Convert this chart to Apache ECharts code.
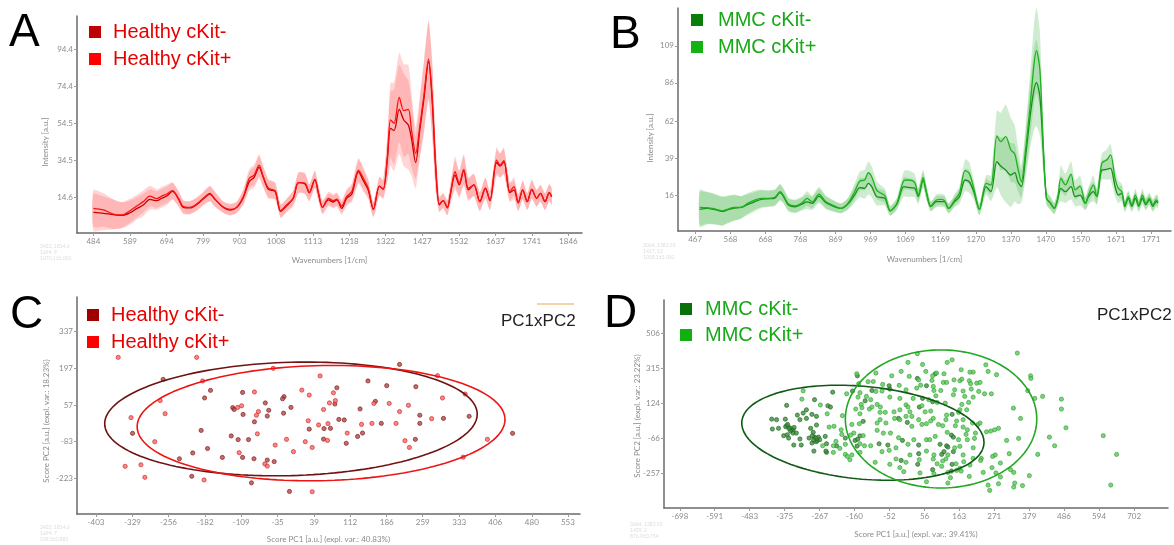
<!DOCTYPE html>
<html lang="en">
<head>
  <meta charset="UTF-8">
  <title>Raman spectra and PCA scores - Healthy vs MMC</title>
  <script src="https://cdn.jsdelivr.net/npm/echarts@6.0.0/dist/echarts.min.js"></script>
  <style>
    body { margin: 0; background: #fff; }
    #chart { width: 1174px; height: 545px; }
  </style>
</head>
<body>
<div id="chart"></div>
<script>
  // ---------- panel A : Healthy spectra ----------
  const waveA = [
    484, 513, 541, 565, 589, 608, 627, 646, 666, 680,
    694, 711, 728, 742, 761, 780, 799, 818, 833, 857,
    876, 895, 914, 931, 945, 959, 971, 986, 1005, 1021,
    1038, 1057, 1072, 1091, 1103, 1119, 1129, 1141, 1158, 1172,
    1182, 1196, 1210, 1225, 1244, 1258, 1272, 1287, 1304, 1315,
    1327, 1336, 1346, 1361, 1374, 1387, 1396, 1408, 1420, 1432,
    1445, 1455, 1466, 1476, 1487, 1499, 1508, 1521, 1533, 1546,
    1559, 1575, 1592, 1608, 1621, 1640, 1650, 1661, 1678, 1690,
    1702, 1715, 1728, 1741, 1755, 1766, 1779, 1791, 1798
  ];
  const healthyPos = [
    8.7, 7.8, 5.6, 5.1, 7.4, 9.9, 12.3, 15.3, 13.9, 15.3,
    16.4, 18.2, 14.1, 9.6, 9.2, 11.0, 14.1, 16.8, 13.5, 9.2,
    8.1, 9.2, 15.0, 24.9, 26.6, 32.0, 25.8, 19.5, 18.2, 7.4,
    10.5, 14.1, 22.5, 22.2, 17.1, 24.3, 17.1, 9.2, 14.1, 12.8,
    13.7, 9.9, 15.0, 17.7, 29.3, 24.9, 19.5, 8.1, 20.7, 19.0,
    36.5, 56.3, 54.5, 68.5, 61.3, 62.0, 50.9, 38.3, 53.0, 70.0,
    89.0, 70.0, 30.0, 11.0, 12.8, 9.0, 16.8, 28.4, 22.2, 29.7,
    19.5, 21.3, 12.3, 19.5, 12.8, 34.7, 32.0, 34.4, 17.7, 20.4,
    11.7, 18.6, 12.3, 18.9, 14.1, 16.8, 12.3, 17.1, 15.0
  ];
  const healthyNeg = [
    6.5, 6.0, 5.3, 4.9, 6.3, 8.5, 10.5, 13.5, 12.8, 14.1,
    15.3, 17.8, 13.7, 9.2, 8.9, 10.7, 13.7, 16.4, 13.5, 9.2,
    7.8, 9.2, 14.6, 23.1, 25.4, 30.8, 25.4, 18.9, 17.8, 7.1,
    10.0, 14.1, 22.5, 21.8, 17.1, 24.3, 17.1, 9.2, 13.2, 12.1,
    13.2, 8.7, 14.1, 16.4, 28.4, 23.6, 18.6, 8.1, 20.7, 19.0,
    35.5, 51.8, 50.6, 62.0, 56.3, 53.6, 46.4, 33.3, 51.0, 68.0,
    87.8, 68.0, 29.0, 10.5, 12.8, 9.0, 16.8, 26.6, 21.3, 29.0,
    18.6, 21.3, 12.3, 19.5, 12.8, 33.3, 31.5, 33.8, 17.1, 18.6,
    11.7, 18.6, 12.3, 18.9, 14.1, 16.8, 12.3, 17.1, 15.0
  ];
  const sdA = [
    10, 9, 8, 7, 6.5, 6, 6, 5.5, 5, 5,
    5, 4.5, 4, 3.5, 3.5, 3.5, 3.5, 4, 4, 3,
    3, 3, 4, 5, 5.5, 6, 5.5, 5, 4.5, 3.5,
    3.5, 4, 5.5, 5.5, 4.5, 4.5, 4, 3.5, 3.5, 3.5,
    3.5, 3.5, 4, 4.5, 6.5, 6, 5, 4, 5, 5,
    12, 20, 22, 24, 25, 24, 20, 14, 16, 19,
    21, 20, 12, 4, 4, 4, 5, 8, 7, 8,
    6, 6, 5, 5.5, 5, 7, 6.5, 7, 5, 5,
    4.5, 5, 4.5, 5, 4.5, 4.5, 4.5, 4.5, 4.5
  ];
  const xTicksA = [484, 589, 694, 799, 903, 1008, 1113, 1218, 1322, 1427, 1532, 1637, 1741, 1846];
  const yTicksA = [14.6, 34.5, 54.5, 74.4, 94.4];

  // ---------- panel B : MMC spectra ----------
  const waveB = [
    480, 501, 520, 545, 559, 579, 598, 617, 637, 656,
    676, 695, 710, 719, 734, 753, 773, 787, 802, 821,
    841, 860, 884, 904, 923, 938, 952, 962, 972, 986,
    996, 1010, 1025, 1044, 1064, 1076, 1095, 1105, 1119, 1128,
    1141, 1157, 1171, 1180, 1192, 1209, 1223, 1239, 1251, 1264,
    1280, 1299, 1313, 1330, 1341, 1355, 1370, 1381, 1390, 1400,
    1412, 1425, 1436, 1443, 1453, 1462, 1472, 1483, 1494, 1504,
    1513, 1526, 1542, 1554, 1568, 1583, 1592, 1606, 1616, 1630,
    1644, 1655, 1668, 1677, 1687, 1696, 1706, 1716, 1726, 1736,
    1746, 1756, 1766, 1776, 1786, 1791
  ];
  const mmcPos = [
    8.3, 8.1, 7.5, 6.2, 7.1, 8.3, 8.3, 10.8, 12.9, 13.9,
    13.9, 14.6, 18.1, 16.0, 10.4, 9.2, 11.2, 13.9, 11.8, 16.6,
    11.8, 9.8, 7.7, 10.8, 18.1, 24.7, 25.4, 29.9, 27.4, 19.1,
    17.5, 15.4, 6.2, 10.8, 25.0, 25.4, 23.7, 16.0, 26.8, 18.1,
    9.2, 12.9, 13.3, 12.5, 7.7, 12.9, 17.1, 31.2, 29.5, 20.2,
    7.1, 23.3, 22.2, 52.8, 49.3, 52.4, 44.1, 41.6, 32.7, 24.3,
    44.1, 71.1, 97.1, 106.0, 94.0, 50.3, 14.0, 11.3, 7.7, 14.0,
    26.4, 22.3, 29.1, 19.2, 21.6, 10.8, 16.0, 22.3, 15.0, 35.8,
    37.9, 41.0, 26.4, 20.2, 18.1, 9.8, 15, 10, 16, 10,
    16, 11, 14, 10, 13, 12
  ];
  const mmcNeg = [
    7.1, 7.7, 7.1, 5.8, 6.7, 7.9, 8.3, 10.0, 11.8, 13.3,
    13.7, 14.1, 17.5, 15.4, 9.8, 8.7, 10.4, 11.8, 10.8, 15.4,
    11.2, 9.2, 7.7, 10.4, 16.0, 20.6, 20.2, 23.3, 21.2, 15.0,
    14.6, 13.9, 6.2, 10.4, 21.2, 20.8, 20.2, 15.0, 25.4, 18.1,
    8.8, 11.9, 11.9, 11.9, 7.7, 11.9, 15.0, 25.4, 24.3, 18.1,
    7.1, 21.2, 18.1, 36.8, 34.1, 31.6, 28.5, 30.0, 24.3, 21.2,
    39.9, 64.9, 81.5, 86.1, 77.3, 46.2, 14.0, 10.8, 7.7, 13.3,
    20.2, 18.1, 21.2, 15.0, 16.0, 10.8, 15.0, 18.1, 15.0, 31.6,
    32.0, 32.7, 21.2, 16.0, 17.1, 8.8, 14, 9, 14, 9,
    14, 10, 13, 9, 12, 11
  ];
  const sdB = [
    11, 10, 9.5, 9, 8.5, 8, 7, 6.5, 6, 5.5,
    5, 5, 5, 4.5, 4, 4, 4, 4.5, 4, 4.5,
    4, 3.5, 3, 3.5, 5, 6, 6.5, 7, 6.5, 5.5,
    5, 4.5, 3, 3.5, 6, 6, 5.5, 4.5, 5, 4.5,
    3, 3.5, 3.5, 3.5, 3, 3.5, 4.5, 7, 7, 5,
    3.5, 5, 6, 16, 18, 20, 20, 18, 14, 10,
    14, 20, 25, 27, 24, 14, 4, 4, 3.5, 4.5,
    8, 7, 8, 6, 6.5, 4, 5, 6, 5, 6,
    6.5, 7, 6, 5, 5, 3.5, 4, 3.5, 4, 3.5,
    4, 3.5, 3.5, 3.5, 3.5, 3.5
  ];
  const xTicksB = [467, 568, 668, 768, 869, 969, 1069, 1169, 1270, 1370, 1470, 1570, 1671, 1771];
  const yTicksB = [16, 39, 62, 86, 109];

  // ---------- panel C : Healthy PCA scores ----------
  const healthyNegScores = [
    [212,212],[-267,155],[148,149],[186,131],[245,127],[-171,113],[-106,105],[85,123],[-22,89],[-25,81],
    [-183,84],[-60,65],[81,61],[163,71],[-126,47],[-123,40],[-53,37],[-8,48],[132,42],[-105,21],
    [-56,15],[-23,26],[253,18],[89,2],[100,0],[301,6],[353,14],[-82,-7],[253,-13],[175,-13],
    [29,-35],[59,-33],[72,-32],[-190,-40],[-329,-51],[137,-50],[-129,-61],[127,-63],[-115,-75],[-94,-75],
    [58,-73],[104,-89],[244,-74],[441,-51],[-177,-109],[-207,-126],[-147,-143],[-106,-143],[-234,-148],[-83,-148],
    [-56,-153],[-42,-159],[-209,-215],[-88,-240],[-11,-273]
  ];
  const healthyPosScores = [
    [-358,239],[-199,239],[-44,197],[51,168],[289,169],[-187,149],[14,114],[-82,107],[78,104],[345,99],
    [29,95],[299,84],[-273,74],[82,74],[70,65],[160,63],[191,63],[-116,48],[-108,54],[-74,32],
    [58,40],[230,56],[-263,24],[-78,18],[212,32],[-332,9],[277,5],[27,-3],[156,-13],[135,-17],
    [205,-13],[48,-19],[67,-14],[-76,-53],[106,-50],[-284,-83],[-17,-74],[66,-78],[21,-83],[223,-79],
    [390,-74],[-40,-96],[35,-105],[232,-105],[-3,-121],[-113,-125],[341,-142],[-61,-168],[-56,-176],[-344,-177],
    [-312,-171],[-304,-219],[-184,-229],[35,-274]
  ];
  // confidence ellipses: [centerX, centerY, semiAxisA, semiAxisB, angleDeg]
  const ellipsesC = [[-8, 4, 378, 216, 4.1], [53, -12, 373, 219.5, 3.2]];
  const xTicksC = [-403, -329, -256, -182, -109, -35, 39, 112, 186, 259, 333, 406, 480, 553];
  const yTicksC = [337, 197, 57, -83, -223];

  // ---------- panel D : MMC PCA scores ----------
  const mmcNegScores = [
    [-151,275],[34,261],[89,286],[-53,221],[62,221],[-166,192],[-106,195],[-51,203],[-227,186],[-127,139],
    [50,152],[-283,145],[-242,112],[-234,105],[40,105],[81,134],[-308,90],[-318,72],[-308,43],[-291,65],
    [141,65],[-415,39],[-400,36],[-133,27],[-24,43],[-413,-15],[-394,-11],[-369,3],[-353,-19],[-349,-19],
    [-295,-11],[3,21],[-378,-51],[-367,-46],[-357,-26],[-349,-37],[-339,-37],[-363,-64],[-328,-69],[-287,-33],
    [-283,-59],[-271,-59],[-250,-55],[-267,-73],[-347,-102],[-291,-91],[-275,-80],[-246,-95],[-188,-64],[-158,-77],
    [-215,-106],[-12,-77],[38,-102],[139,-48],[145,-59],[104,-98],[124,-106],[128,-113],[-84,-95],[-57,-102],
    [-246,-142],[-248,-135],[38,-149],[109,-153],[116,-138],[145,-138],[-16,-186],[35,-207],[141,-207],[81,-236],
    [139,-244],[-336,61],[-328,36],[-373,39],[-359,-8],[-369,114],[-324,-102],[-300,-64],[-279,-84],[-277,54],
    [-277,7],[-285,-135],[-372,-2],[-362,-12],[-346,-6],[-366,10],[-290,-52],[-279,-66],[-286,-75],[-143,-52],
    [-150,-70],[-152,-108]
  ];
  const mmcPosScores = [
    [342,399],[34,395],[5,348],[50,337],[126,348],[141,362],[245,335],[-94,290],[-153,286],[-16,299],
    [60,299],[93,290],[116,286],[169,308],[196,295],[206,295],[252,299],[278,281],[383,275],[384,261],
    [-45,275],[9,272],[38,253],[81,275],[79,250],[114,239],[124,239],[165,248],[147,253],[171,257],
    [194,248],[198,232],[217,235],[227,239],[-102,244],[-118,243],[-73,228],[-22,223],[44,224],[83,217],
    [-147,232],[-184,177],[-143,183],[-94,190],[-75,192],[-1,199],[32,208],[85,195],[106,195],[149,199],
    [175,192],[200,203],[223,190],[241,177],[262,177],[374,194],[-318,193],[-123,163],[-110,145],[-149,159],
    [-51,159],[-20,152],[21,152],[69,145],[91,166],[145,172],[180,163],[206,159],[396,152],[420,163],
    [478,148],[-322,148],[-265,116],[-139,119],[-90,119],[-80,105],[-1,117],[5,105],[48,112],[95,130],
    [120,126],[171,119],[192,130],[330,99],[478,94],[-244,68],[-197,58],[-156,94],[-137,101],[-114,94],
    [-106,105],[-81,76],[-65,76],[-38,79],[-20,90],[11,79],[58,79],[75,83],[124,61],[165,90],
    [161,76],[186,90],[-143,68],[-81,36],[-36,43],[-1,54],[17,54],[38,36],[83,43],[75,29],
    [122,36],[155,29],[175,36],[204,18],[221,10],[227,18],[352,43],[-238,-4],[-223,0],[-201,-19],
    [-168,10],[-145,14],[-90,18],[-63,18],[-20,36],[17,0],[48,10],[62,14],[99,10],[112,3],
    [151,3],[175,-4],[188,-19],[260,-26],[272,-19],[284,-11],[492,-8],[-258,-106],[-217,-82],[-199,-44],
    [-172,-48],[-162,-37],[-143,-95],[-188,-98],[-129,-106],[-110,-106],[-133,-51],[-90,-22],[-71,-37],[-49,-37],
    [-24,-62],[5,-98],[23,-73],[62,-73],[89,-55],[72,-73],[126,-33],[161,-73],[184,-44],[188,-73],
    [210,-66],[213,-37],[247,-30],[346,-66],[309,-77],[441,-59],[457,-106],[607,-51],[149,-117],[165,-109],
    [206,-117],[-225,-106],[-205,-120],[-225,-142],[-188,-153],[-182,-164],[-168,-156],[-143,-142],[-75,-138],[-53,-131],
    [-32,-117],[11,-156],[62,-135],[85,-156],[128,-156],[175,-156],[206,-175],[231,-175],[266,-164],[274,-156],
    [317,-149],[405,-153],[648,-153],[-174,-182],[-96,-196],[-32,-178],[-51,-207],[-1,-196],[40,-182],[83,-178],
    [95,-204],[112,-189],[122,-178],[153,-204],[177,-193],[196,-211],[264,-225],[290,-200],[229,-186],[-20,-225],
    [-8,-247],[42,-254],[85,-258],[109,-218],[128,-251],[155,-240],[165,-229],[169,-244],[194,-273],[237,-251],
    [276,-254],[290,-276],[321,-236],[331,-251],[379,-269],[136,-280],[62,-302],[128,-309],[252,-320],[284,-313],
    [334,-309],[358,-323],[331,-331],[257,-349],[630,-320]
  ];
  const ellipsesD = [[-134, -35, 380, 249, -14.2], [107, 40, 295, 376, 0]];
  const xTicksD = [-698, -591, -483, -375, -267, -160, -52, 56, 163, 271, 379, 486, 594, 702];
  const yTicksD = [506, 315, 124, -66, -257];

  // ---------- helpers ----------
  const labelFont = { color: '#8c8c8c', fontSize: 8, fontFamily: 'Lato' };

  function makeAxis(grid, min, max, ticks, name, gap) {
    return {
      type: 'value', gridIndex: grid, min: min, max: max,
      name: name, nameLocation: 'middle', nameGap: gap,
      nameTextStyle: { color: '#8c8c8c', fontSize: 8, fontFamily: 'Lato' },
      axisLine: { show: true, onZero: false, lineStyle: { color: '#6a6a6a', width: 1.5 } },
      axisTick: { show: true, length: 3, customValues: ticks, lineStyle: { color: '#9a9a9a' } },
      axisLabel: Object.assign({ customValues: ticks, margin: 4, formatter: v => String(v) }, labelFont),
      splitLine: { show: false }
    };
  }

  // mean +/- sd band, drawn as one polygon through the axis scales
  function bandSeries(idx, wave, mean, sd, color, opacity) {
    const rows = wave.map((w, i) => [w, mean[i] - sd[i], mean[i] + sd[i]]);
    return {
      type: 'custom', xAxisIndex: idx, yAxisIndex: idx, silent: true, clip: true,
      encode: { x: 0, y: [1, 2] },
      data: rows,
      renderItem: function (params, api) {
        if (params.dataIndex !== 0) return null;
        const up = rows.map(r => api.coord([r[0], r[2]]));
        const lo = rows.map(r => api.coord([r[0], r[1]])).reverse();
        return {
          type: 'polygon',
          shape: { points: up.concat(lo), smooth: 0.2 },
          style: { fill: color, opacity: opacity }
        };
      }
    };
  }

  function meanSeries(idx, wave, mean, color) {
    return {
      type: 'line', xAxisIndex: idx, yAxisIndex: idx, symbol: 'none', smooth: 0.3,
      lineStyle: { color: color, width: 1.3 }, data: wave.map((w, i) => [w, mean[i]])
    };
  }

  function scoreSeries(idx, pts, fill, border) {
    return {
      type: 'scatter', xAxisIndex: idx, yAxisIndex: idx, symbolSize: 4.2,
      itemStyle: { color: fill, borderColor: border, borderWidth: 0.8 }, data: pts
    };
  }

  function ellipseSeries(idx, e, color) {
    const [cx, cy, a, b, deg] = e;
    const th = deg * Math.PI / 180;
    const pts = [];
    for (let k = 0; k <= 160; k++) {
      const t = 2 * Math.PI * k / 160;
      pts.push([
        cx + a * Math.cos(t) * Math.cos(th) - b * Math.sin(t) * Math.sin(th),
        cy + a * Math.cos(t) * Math.sin(th) + b * Math.sin(t) * Math.cos(th)
      ]);
    }
    return {
      type: 'line', xAxisIndex: idx, yAxisIndex: idx, symbol: 'none', silent: true,
      lineStyle: { color: color, width: 1.6 }, data: pts
    };
  }

  function txt(x, y, text, size, color) {
    return {
      type: 'text', x: x, y: y,
      style: { text: text, fill: color, font: size + 'px "Liberation Sans", Arial, sans-serif', align: 'left', verticalAlign: 'middle' }
    };
  }
  function smallTxt(x, y, text, rot) {
    return {
      type: 'text', x: x, y: y, rotation: rot || 0,
      style: { text: text, fill: '#8c8c8c', font: '8px Lato', align: 'center', verticalAlign: 'middle' }
    };
  }
  function faint(x, y, text) {
    return {
      type: 'text', x: x, y: y,
      style: { text: text, fill: '#dcdcdc', font: '5px Lato', align: 'left', verticalAlign: 'top', lineHeight: 6 }
    };
  }
  function box(x, y, c) {
    return { type: 'rect', shape: { x: x, y: y, width: 12, height: 12 }, style: { fill: c } };
  }

  const chart = echarts.init(document.getElementById('chart'));

  const option = {
    animation: false,
    backgroundColor: '#fff',
    grid: [
      { left: 77, top: 16, width: 505, height: 217, containLabel: false, outerBoundsMode: 'none' },
      { left: 678, top: 8, width: 493, height: 223, containLabel: false, outerBoundsMode: 'none' },
      { left: 77, top: 297, width: 503, height: 217, containLabel: false, outerBoundsMode: 'none' },
      { left: 664, top: 300, width: 504, height: 208, containLabel: false, outerBoundsMode: 'none' }
    ],
    xAxis: [
      makeAxis(0, 437, 1885, xTicksA, 'Wavenumbers [1/cm]', 23),
      makeAxis(1, 418, 1828, xTicksB, 'Wavenumbers [1/cm]', 24),
      makeAxis(2, -441.5, 577.6, xTicksC, 'Score PC1 [a.u.] (expl. var.: 40.83%)', 21),
      makeAxis(3, -747, 806.5, xTicksD, 'Score PC1 [a.u.] (expl. var.: 39.41%)', 22)
    ],
    yAxis: [
      makeAxis(0, -4.6, 112.3, yTicksA, '', 0),
      makeAxis(1, -6.4, 132.6, yTicksB, '', 0),
      makeAxis(2, -359, 469.5, yTicksC, '', 0),
      makeAxis(3, -445, 688, yTicksD, '', 0)
    ],
    series: [
      bandSeries(0, waveA, healthyNeg, sdA, '#ff5c5c', 0.26),
      bandSeries(0, waveA, healthyPos, sdA, '#ff5c5c', 0.26),
      meanSeries(0, waveA, healthyNeg, '#c40000'),
      meanSeries(0, waveA, healthyPos, '#ff1010'),
      bandSeries(1, waveB, mmcNeg, sdB, '#3cae3c', 0.24),
      bandSeries(1, waveB, mmcPos, sdB, '#3cae3c', 0.24),
      meanSeries(1, waveB, mmcNeg, '#15901a'),
      meanSeries(1, waveB, mmcPos, '#1fb21f'),
      scoreSeries(2, healthyNegScores, '#b04848', '#7a1414'),
      scoreSeries(2, healthyPosScores, '#f26a6a', '#d81a1a'),
      ellipseSeries(2, ellipsesC[0], '#6e1212'),
      ellipseSeries(2, ellipsesC[1], '#ee1414'),
      scoreSeries(3, mmcNegScores, '#3f8f3f', '#1e641e'),
      scoreSeries(3, mmcPosScores, '#5cc85c', '#2ea02e'),
      ellipseSeries(3, ellipsesD[0], '#0f5a12'),
      ellipseSeries(3, ellipsesD[1], '#22a822')
    ],
    graphic: [
      // panel letters
      txt(9, 33, 'A', 46, '#000'),
      txt(610, 35, 'B', 46, '#000'),
      txt(10, 315, 'C', 46, '#000'),
      txt(604, 314, 'D', 46, '#000'),
      // legends
      box(89, 26, '#c00000'), txt(113, 32, 'Healthy cKit-', 20, '#e60000'),
      box(89, 53, '#ff0000'), txt(113, 59, 'Healthy cKit+', 20, '#e60000'),
      box(691, 14, '#0b7d0b'), txt(718, 20, 'MMC cKit-', 20, '#18a818'),
      box(691, 41, '#13b313'), txt(718, 47, 'MMC cKit+', 20, '#18a818'),
      box(87, 309, '#a00000'), txt(111, 315, 'Healthy cKit-', 20, '#e60000'),
      box(87, 336, '#ff0000'), txt(111, 342, 'Healthy cKit+', 20, '#e60000'),
      box(680, 303, '#0a700a'), txt(705, 309, 'MMC cKit-', 20, '#18a818'),
      box(680, 329, '#11b011'), txt(705, 335, 'MMC cKit+', 20, '#18a818'),
      // plot tags
      { type: 'line', shape: { x1: 537, y1: 304, x2: 574, y2: 304 }, style: { stroke: '#f6c48a', lineWidth: 1.5 } },
      txt(501, 321, 'PC1xPC2', 17, '#222'),
      txt(1097, 315, 'PC1xPC2', 17, '#222'),
      // y axis names
      smallTxt(45, 142, 'Intensity [a.u.]', Math.PI / 2),
      smallTxt(650, 138, 'Intensity [a.u.]', Math.PI / 2),
      smallTxt(46, 421, 'Score PC2 [a.u.] (expl. var.: 18.23%)', Math.PI / 2),
      smallTxt(637, 416, 'Score PC2 [a.u.] (expl. var.: 23.22%)', Math.PI / 2),
      // faint cursor readouts
      faint(40, 243, '3422, 1814.6\n1694, 9\n1070.1±1.000'),
      faint(643, 242, '3064, 1382.55\n1417, 12\n1058.1±1.000'),
      faint(40, 524, '3422, 1814.6\n1694, 7\n509.3±0.881'),
      faint(630, 521, '3064, 1382.55\n1429, 2\n876.9±0.754')
    ]
  };

  chart.setOption(option);
</script>
</body>
</html>
